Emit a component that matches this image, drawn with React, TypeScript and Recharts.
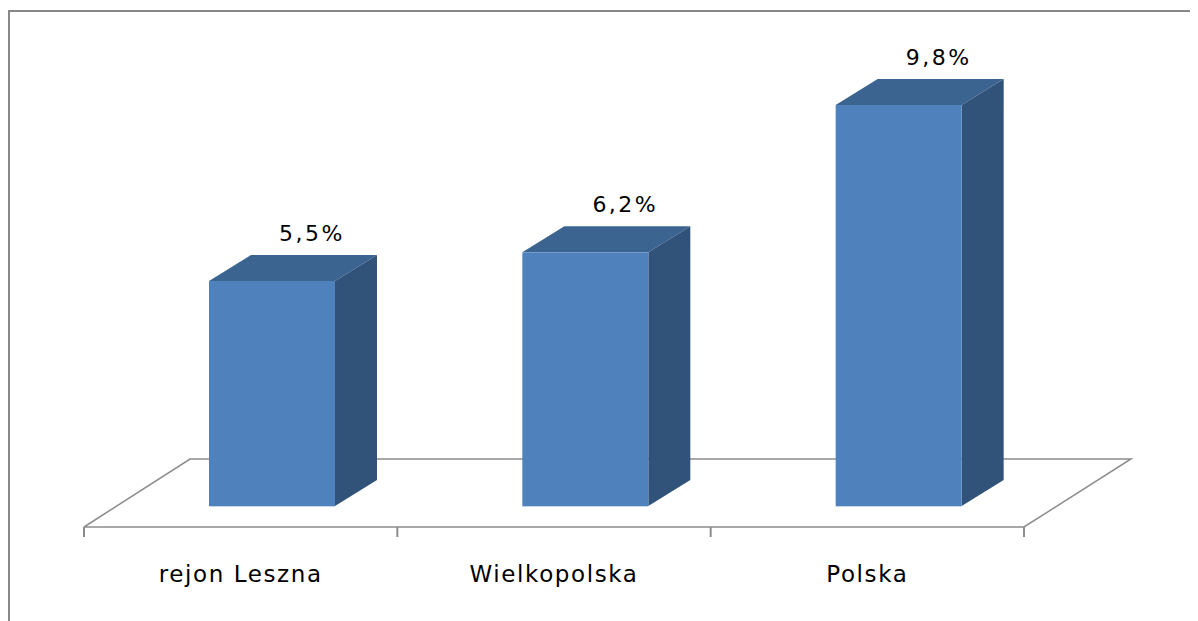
import React from 'react';
import { BarChart, Bar, XAxis, YAxis, LabelList, Customized } from 'recharts';

const categories = ['rejon Leszna', 'Wielkopolska', 'Polska'];
const values = [5.5, 6.2, 9.8];
const valueLabels = ['5,5%', '6,2%', '9,8%'];

const data = categories.map((name, i) => ({ name, value: values[i], label: valueLabels[i] }));

const W = 1190;
const H = 613;
const AXIS_H = 30;
const M = { top: 7, right: 174, bottom: 85, left: 76 };
const plotRight = W - M.right;
const plotBottom = H - M.bottom - AXIS_H;

// 3D look
const SHIFT = 31; // front face offset from band slot
const DX = 42;
const DY = -26;
const FONT = '"DejaVu Sans", "Noto Sans", sans-serif';

const Box = (props: any) => {
  const { x, y, width, height } = props;
  const fx = x + SHIFT;
  const right = fx + width;
  const bottom = y + height;
  return (
    <g>
      <polygon
        points={`${fx},${y} ${fx + DX},${y + DY} ${right + DX},${y + DY} ${right},${y}`}
        fill="#3C6491"
      />
      <polygon
        points={`${right},${y} ${right + DX},${y + DY} ${right + DX},${bottom + DY} ${right},${bottom}`}
        fill="#325379"
      />
      <rect x={fx} y={y} width={width} height={height} fill="#4F81BD" />
      <line x1={fx} x2={right} y1={bottom + 0.5} y2={bottom + 0.5} stroke="#C6D5EA" strokeWidth={1} />
    </g>
  );
};

const ValueLabel = (props: any) => {
  const { x, y, width, value } = props;
  return (
    <text
      x={x + SHIFT + width / 2 + 40}
      y={y + DY - 14}
      textAnchor="middle"
      fontFamily={FONT}
      fontSize={22}
      letterSpacing={2.5}
      fill="#000"
    >
      {value}
    </text>
  );
};

const Floor = () => {
  const frontY = plotBottom + 21;
  const backY = plotBottom - 47;
  const back = 106;
  const band = (plotRight - M.left) / categories.length;
  const ticks = [0, 1, 2, 3].map(i => M.left + i * band);
  return (
    <g>
      <line x1={1} y1={2} x2={1} y2={H} stroke="#888" strokeWidth={2} />
      <line x1={0} y1={3} x2={W} y2={3} stroke="#888" strokeWidth={2} />
      <polyline
        points={`${M.left},${frontY} ${M.left + back},${backY} ${plotRight + back + 1},${backY} ${plotRight},${frontY} ${M.left},${frontY}`}
        fill="none"
        stroke="#8C8C8C"
        strokeWidth={1.5}
      />
      {ticks.map((t, i) => (
        <line key={i} x1={t} x2={t} y1={frontY} y2={frontY + 10} stroke="#8C8C8C" strokeWidth={2} />
      ))}
    </g>
  );
};

const CategoryTick = (props: any) => {
  const { x, y, payload } = props;
  return (
    <text
      x={x}
      y={y + 68}
      textAnchor="middle"
      fontFamily={FONT}
      fontSize={23}
      letterSpacing={1.6}
      fill="#000"
    >
      {payload.value}
    </text>
  );
};

export default function App() {
  return (
    <div style={{ width: W, height: H }}>
      <BarChart width={W} height={H} data={data} margin={M}>
        <Customized component={<Floor />} />
        <XAxis dataKey="name" height={AXIS_H} axisLine={false} tickLine={false} tick={<CategoryTick />} interval={0} />
        <YAxis hide domain={[0, 12]} />
        <Bar dataKey="value" barSize={126} shape={<Box />} isAnimationActive={false}>
          <LabelList dataKey="label" content={<ValueLabel />} />
        </Bar>
      </BarChart>
    </div>
  );
}
